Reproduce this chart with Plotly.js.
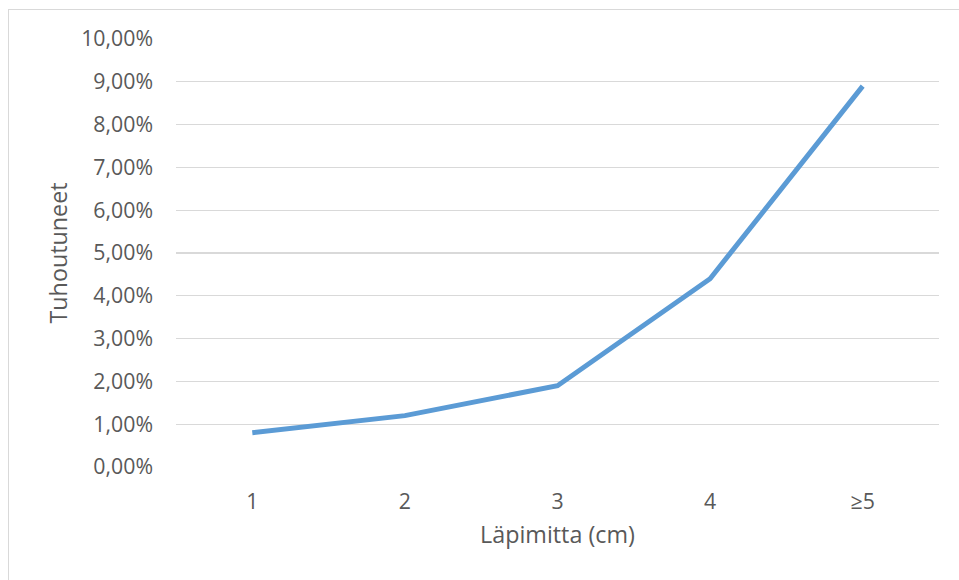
<!DOCTYPE html>
<html>
<head>
<meta charset="utf-8">
<script src="https://cdn.plot.ly/plotly-3.0.1.min.js"></script>
<style>
html,body{margin:0;padding:0;background:#fff;}
#frame{position:absolute;left:8px;top:9px;width:960px;height:580px;border-left:1.5px solid #d9d9d9;border-top:1.5px solid #d9d9d9;}
#chart{position:absolute;left:0;top:0;width:959px;height:580px;}
</style>
</head>
<body>
<div id="frame"></div>
<div id="chart"></div>
<script>
const categories = ["1", "2", "3", "4", "≥5"];
const values = [0.008, 0.012, 0.019, 0.044, 0.089];
const yTickVals = [0, 0.01, 0.02, 0.03, 0.04, 0.05, 0.06, 0.07, 0.08, 0.09, 0.10];
const yTickText = ["0,00%", "1,00%", "2,00%", "3,00%", "4,00%", "5,00%", "6,00%", "7,00%", "8,00%", "9,00%", "10,00%"];
const xTitle = "Läpimitta (cm)";
const yTitle = "Tuhoutuneet";

const font = {family: "'Open Sans', Lato, sans-serif", size: 21.3, color: "#595959"};
const titleFont = {family: "'Open Sans', Lato, sans-serif", size: 23.3, color: "#595959"};

Plotly.newPlot("chart", [{
  x: categories,
  y: values,
  type: "scatter",
  mode: "lines",
  line: {color: "#5b9bd5", width: 5},
  hoverinfo: "skip"
}], {
  width: 959,
  height: 580,
  margin: {l: 176, r: 20, t: 39, b: 113},
  paper_bgcolor: "rgba(0,0,0,0)",
  plot_bgcolor: "rgba(0,0,0,0)",
  showlegend: false,
  font: font,
  xaxis: {
    type: "category",
    range: [-0.5, 4.5],
    showgrid: false,
    zeroline: false,
    showline: false,
    ticks: "",
    tickfont: font,
    ticklabelstandoff: 20,
    title: {text: xTitle, font: titleFont, standoff: 12}
  },
  yaxis: {
    range: [0, 0.10],
    tickvals: yTickVals,
    ticktext: yTickText,
    showgrid: true,
    gridcolor: "#d9d9d9",
    gridwidth: 1.3,
    zeroline: false,
    showline: false,
    ticks: "",
    tickfont: font,
    ticklabelstandoff: 22,
    title: {text: yTitle, font: titleFont, standoff: 7}
  }
}, {staticPlot: true});
</script>
</body>
</html>
